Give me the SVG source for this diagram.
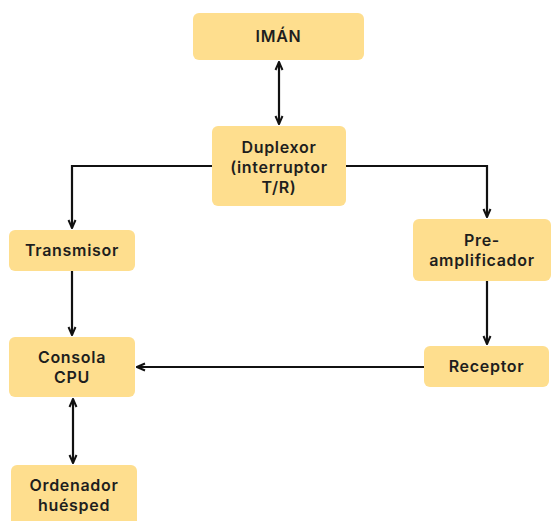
<svg xmlns="http://www.w3.org/2000/svg" width="552" height="521" viewBox="0 0 552 521">
<defs>
<style>
.box{fill:#FEDE8E;}
.t{font-family:Inter,"Open Sans","Liberation Sans",sans-serif;font-size:16px;font-weight:600;letter-spacing:0.7px;fill:#1e1e1e;text-anchor:middle;}
.c{fill:none;stroke:#111;stroke-width:2.2;}
</style>
<marker id="a" viewBox="0 0 10 10" refX="9" refY="5" markerWidth="10" markerHeight="10" orient="auto-start-reverse" markerUnits="userSpaceOnUse">
<path d="M1,1.5 L9,5 L1,8.5" fill="none" stroke="#111" stroke-width="2"/>
</marker>
</defs>
<rect width="552" height="521" fill="#fff"/>
<g id="connectors">
<line class="c" x1="279" y1="62" x2="279" y2="124" marker-start="url(#a)" marker-end="url(#a)"/>
<path class="c" d="M212,166 H72 V228" marker-end="url(#a)"/>
<path class="c" d="M346,166 H487 V217" marker-end="url(#a)"/>
<line class="c" x1="72" y1="271" x2="72" y2="335" marker-end="url(#a)"/>
<line class="c" x1="487" y1="281" x2="487" y2="344" marker-end="url(#a)"/>
<line class="c" x1="424" y1="367" x2="137" y2="367" marker-end="url(#a)"/>
<line class="c" x1="73" y1="399" x2="73" y2="463" marker-start="url(#a)" marker-end="url(#a)"/>
</g>
<g id="iman"><rect class="box" x="193" y="13" width="171" height="47" rx="6"/><text class="t" x="278.5" y="42">IMÁN</text></g>
<g id="duplexor"><rect class="box" x="212" y="126" width="134" height="80" rx="6"/><text class="t" x="279" y="153">Duplexor</text><text class="t" x="279" y="173">(interruptor</text><text class="t" x="279" y="193">T/R)</text></g>
<g id="transmisor"><rect class="box" x="9" y="230" width="126" height="41" rx="6"/><text class="t" x="72" y="256">Transmisor</text></g>
<g id="preamplificador"><rect class="box" x="413" y="219" width="138" height="62" rx="6"/><text class="t" x="482" y="246">Pre-</text><text class="t" x="482" y="266">amplificador</text></g>
<g id="consola"><rect class="box" x="9" y="337" width="126" height="60" rx="6"/><text class="t" x="72" y="363">Consola</text><text class="t" x="72" y="383">CPU</text></g>
<g id="receptor"><rect class="box" x="424" y="346" width="125" height="41" rx="6"/><text class="t" x="486.5" y="372">Receptor</text></g>
<g id="ordenador"><rect class="box" x="11" y="465" width="126" height="62" rx="6"/><text class="t" x="74" y="491">Ordenador</text><text class="t" x="74" y="511">huésped</text></g>
</svg>
